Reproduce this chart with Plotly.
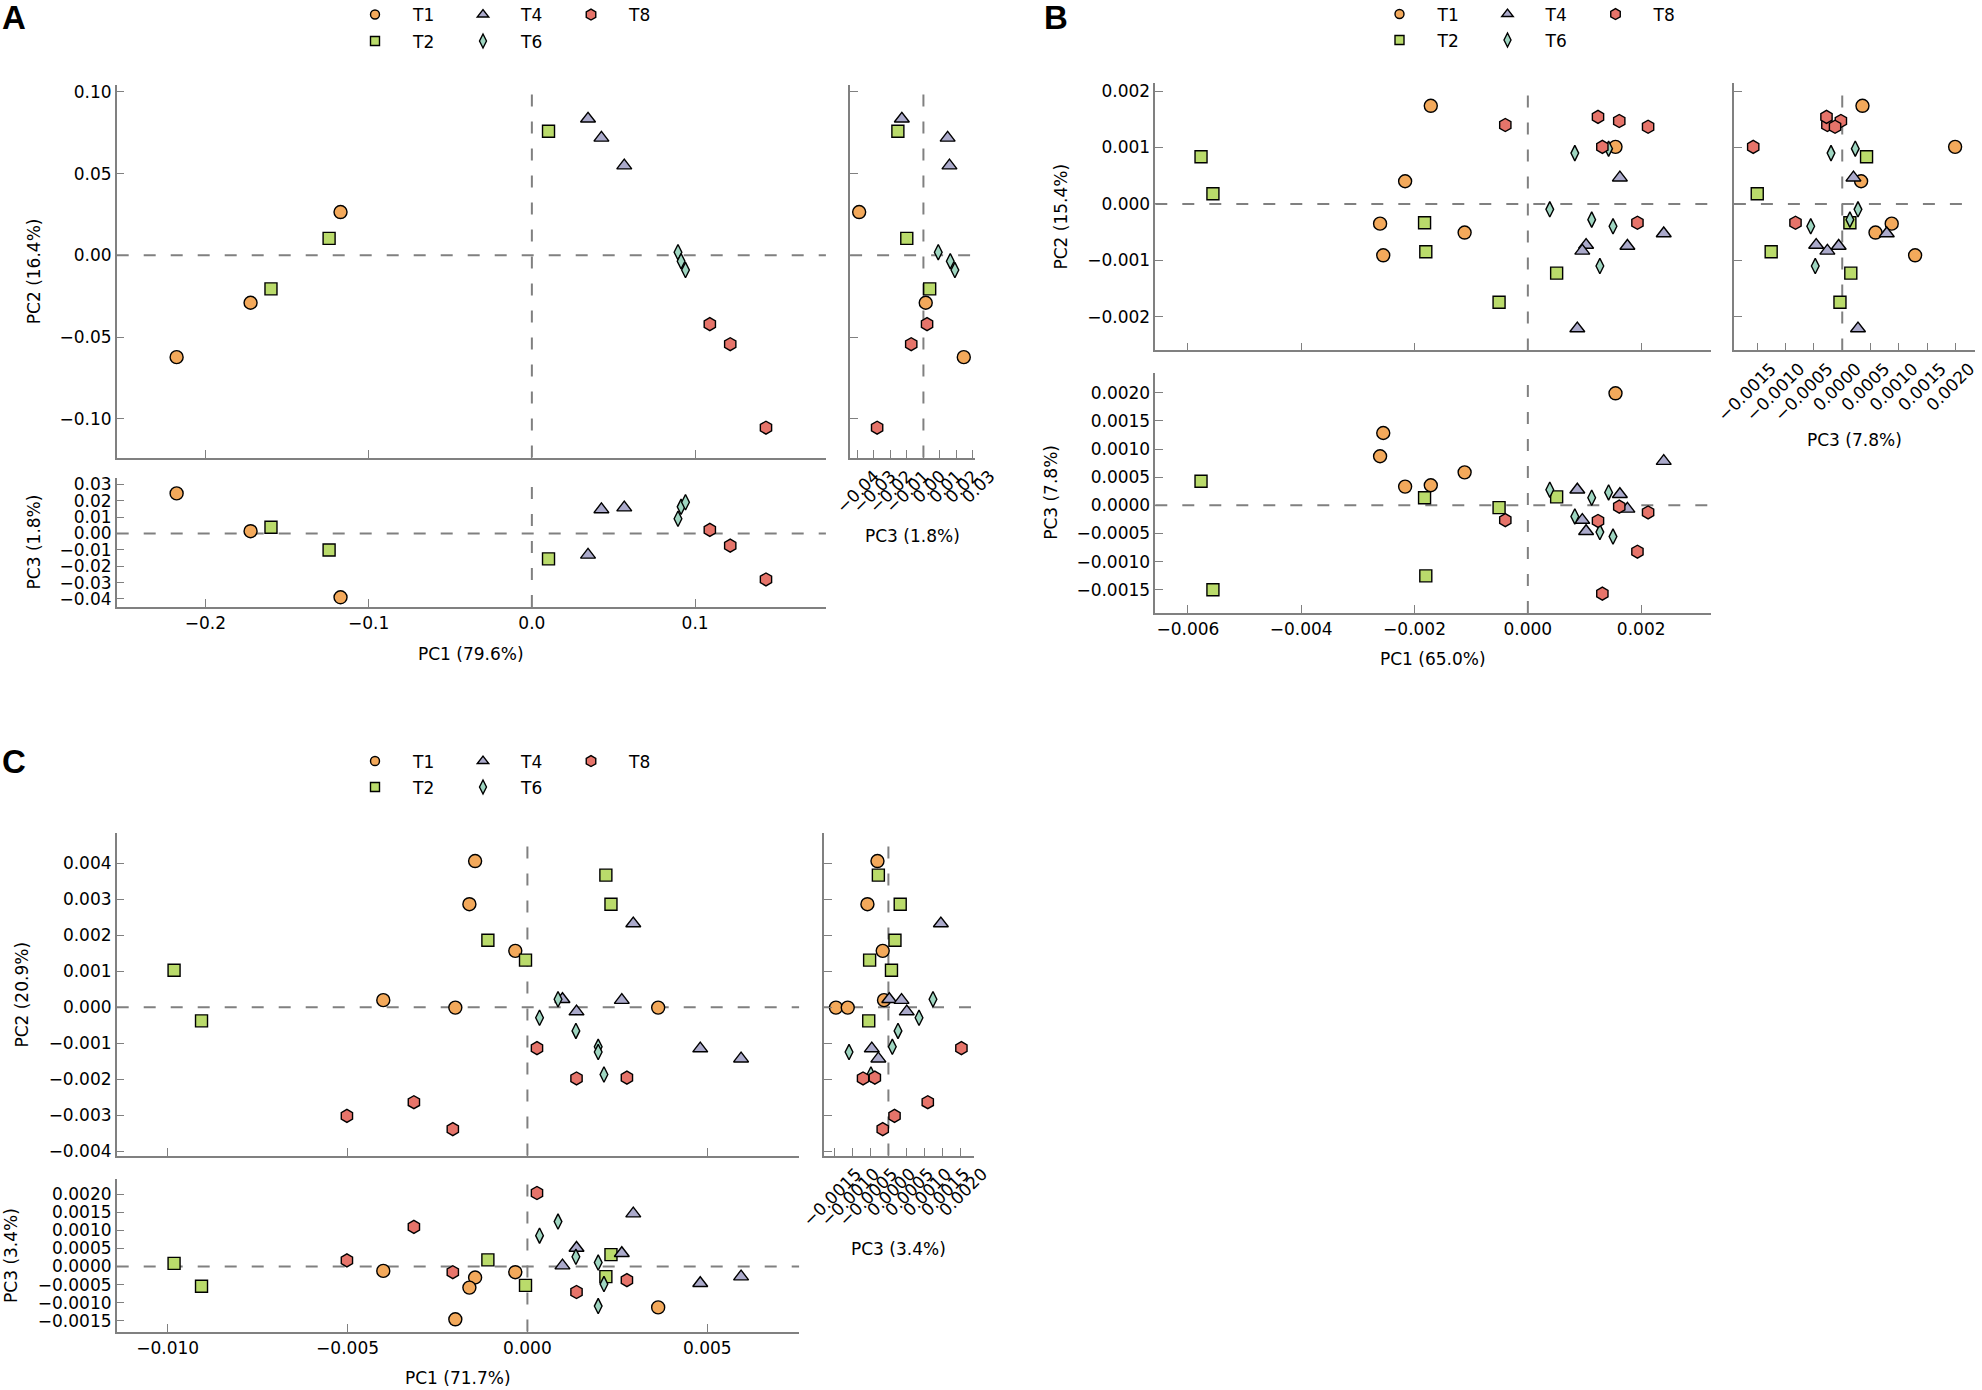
import plotly.graph_objects as go

W, H = 1982, 1390
FONT = "DejaVu Sans"

GROUPS = ["T1", "T2", "T4", "T6", "T8"]
COLORS = ["#F3A95B", "#BADB6B", "#ABAACB", "#9FD6C1", "#E6746A"]
SYMBOLS = ["circle", "square", "triangle-up", "diamond-tall", "hexagon"]

# panel A scores, one list per group (T1, T2, T4, T6, T8)
A_PC1 = [[-0.2176, -0.1723, -0.1172], [-0.1598, -0.1242, 0.0102], [0.0344, 0.0426, 0.0566],
         [0.0895, 0.0914, 0.0941], [0.1090, 0.1215, 0.1434]]
A_PC2 = [[-0.0623, -0.0290, 0.0265], [-0.0205, 0.0104, 0.0760], [0.0836, 0.0719, 0.0549],
         [0.0019, -0.0036, -0.0090], [-0.0421, -0.0544, -0.1055]]
A_PC3 = [[0.0245, 0.0014, -0.0390], [0.0038, -0.0101, -0.0155], [-0.0131, 0.0147, 0.0158],
         [0.0090, 0.0163, 0.0191], [0.0022, -0.0074, -0.0281]]

# panel B
B_PC1 = [[-0.001713, -0.002166, -0.002608, -0.002552, -0.001116, 0.001547],
         [-0.005768, -0.005558, -0.001823, -0.001801, -0.000508, 0.000508],
         [0.001624, 0.002398, 0.001757, 0.001028, 0.000961, 0.000873],
         [0.000829, 0.001425, 0.000387, 0.001127, 0.001503, 0.001271],
         [-0.000398, 0.001238, 0.001613, 0.002122, 0.001315, 0.001934]]
B_PC2 = [[0.001739, 0.000403, -0.000348, -0.000909, -0.000506, 0.001012],
         [0.000838, 0.000182, -0.000332, -0.000846, -0.001739, -0.001225],
         [0.000466, -0.000522, -0.000743, -0.000727, -0.000830, -0.002206],
         [0.000901, 0.000980, -0.000095, -0.000277, -0.000395, -0.001099],
         [0.001399, 0.001542, 0.001470, 0.001368, 0.001012, -0.000332]]
B_PC3 = [[0.000357, 0.000333, 0.000873, 0.001286, 0.000587, 0.001992],
         [0.000429, -0.001500, 0.000135, -0.001254, -0.000040, 0.000151],
         [0.000198, 0.000786, -0.000063, -0.000460, -0.000262, 0.000278],
         [-0.000198, 0.000230, 0.000278, 0.000135, -0.000556, -0.000476],
         [-0.000262, -0.000278, -0.000024, -0.000127, -0.001571, -0.000825]]

# panel C
C_PC1 = [[-0.001454, -0.001613, -0.000337, -0.004007, -0.002004, 0.003635],
         [-0.009823, -0.009060, -0.001099, -0.000053, 0.002181, 0.002323],
         [0.002943, 0.000975, 0.002624, 0.001365, 0.004805, 0.005940],
         [0.000851, 0.000337, 0.001348, 0.001968, 0.001968, 0.002128],
         [0.000266, 0.001365, 0.002766, -0.003156, -0.005018, -0.002074]]
C_PC2 = [[0.004054, 0.002857, 0.001563, 0.000195, -0.000012, -0.000012],
         [0.001026, -0.000379, 0.001856, 0.001306, 0.003663, 0.002857],
         [0.002320, 0.000220, 0.000195, -0.000122, -0.001148, -0.001429],
         [0.000220, -0.000293, -0.000659, -0.001099, -0.001245, -0.001868],
         [-0.001136, -0.001978, -0.001954, -0.002637, -0.003016, -0.003382]]
C_PC3 = [[-0.000304, -0.000583, -0.000158, -0.000122, -0.001458, -0.001130],
         [0.000085, -0.000547, 0.000182, -0.000522, -0.000279, 0.000328],
         [0.001458, 0.000024, 0.000365, 0.000510, -0.000462, -0.000279],
         [0.001239, 0.000851, 0.000267, 0.000109, -0.001094, -0.000486],
         [0.002029, -0.000705, -0.000377, 0.001094, 0.000170, -0.000158]]

A_TICKS = ([-0.2, -0.1, 0.0, 0.1], [-0.10, -0.05, 0.00, 0.05, 0.10],
           [-0.04, -0.03, -0.02, -0.01, 0.00, 0.01, 0.02, 0.03])
B_TICKS = ([-0.006, -0.004, -0.002, 0.000, 0.002], [-0.002, -0.001, 0.000, 0.001, 0.002],
           [-0.0015, -0.0010, -0.0005, 0.0000, 0.0005, 0.0010, 0.0015, 0.0020])
C_TICKS = ([-0.010, -0.005, 0.000, 0.005], [-0.004, -0.003, -0.002, -0.001, 0.000, 0.001, 0.002, 0.003, 0.004],
           [-0.0015, -0.0010, -0.0005, 0.0000, 0.0005, 0.0010, 0.0015, 0.0020])

A_TITLES = ["PC1 (79.6%)", "PC2 (16.4%)", "PC3 (1.8%)"]
B_TITLES = ["PC1 (65.0%)", "PC2 (15.4%)", "PC3 (7.8%)"]
C_TITLES = ["PC1 (71.7%)", "PC2 (20.9%)", "PC3 (3.4%)"]

# layout of each panel in pixels
panels = [
    dict(letter="A", pc=(A_PC1, A_PC2, A_PC3), ticks=A_TICKS, titles=A_TITLES, fmt=(".1f", ".2f", ".2f"),
         rng=([-0.2543, 0.1801], [-0.1238, 0.1044], [-0.0450, 0.0341], [-0.0445, 0.0310]),
         mx=(116.7, 825.9), my=(84.8, 457.6), by=(477.7, 607.1), rx=(850.1, 974.5),
         lab=(0, -3), leg=(337, 15, 41.5), shift=17,
         tpos=(654, 34, 34, 535.7)),
    dict(letter="B", pc=(B_PC1, B_PC2, B_PC3), ticks=B_TICKS, titles=B_TITLES, fmt=(".3f", ".3f", ".4f"),
         rng=([-0.006575, 0.003227], [-0.002593, 0.00215], [-0.001913, 0.002357], [-0.001912, 0.002343]),
         mx=(1155.3, 1710.7), my=(82.6, 350.4), by=(372.8, 612.9), rx=(1733.9, 1975.0),
         lab=(1042, -3), leg=(1361.5, 14.5, 40.5), shift=14,
         tpos=(659, 1061, 1051, 440)),
    dict(letter="C", pc=(C_PC1, C_PC2, C_PC3), ticks=C_TICKS, titles=C_TITLES, fmt=(".3f", ".3f", ".4f"),
         rng=([-0.011418, 0.007553], [-0.004115, 0.004835], [-0.001798, 0.002418], [-0.00179, 0.002376]),
         mx=(116.7, 799.1), my=(832.9, 1155.5), by=(1178.9, 1331.6), rx=(824.0, 973.9),
         lab=(0, 741), leg=(337, 761.5, 787.5), shift=22,
         tpos=(1378, 22.4, 11.7, 1249)),
]

SIZES = [13, 12, 13, 11, 13]
LEG_SIZES = [9, 9, 10, 10, 11]
GRAY = "#808080"


def xd(a, b):
    return [a / W, b / W]


def yd(top, bottom):
    return [1 - bottom / H, 1 - top / H]


def axis(**kw):
    base = dict(showline=True, linecolor=GRAY, linewidth=1.5, ticks="inside", ticklen=8,
                tickwidth=1.3, tickcolor=GRAY, showgrid=False, zeroline=False, mirror=False,
                automargin=False, tickfont=dict(family=FONT, size=17, color="black"),
                tickmode="array", ticklabeloverflow="allow")
    base.update(kw)
    return base


def label(text, x, y, angle=0):
    return dict(text=text, xref="paper", yref="paper", x=x / W, y=1 - y / H,
                xanchor="center", yanchor="middle", showarrow=False, textangle=angle,
                font=dict(family=FONT, size=17, color="black"))


fig = go.Figure()
layout = {}
shapes = []
annotations = []
dash = dict(color=GRAY, width=2, dash="12px,15px")

for p, pan in enumerate(panels):
    n = 3 * p + 1
    pc1, pc2, pc3 = pan["pc"]
    t1, t2, t3 = pan["ticks"]
    f1, f2, f3 = pan["fmt"]
    r1, r2, r3, r3x = pan["rng"]
    names = [str(n) if n > 1 else "", str(n + 1), str(n + 2)]

    # main PC1 vs PC2
    layout["xaxis" + names[0]] = axis(domain=xd(*pan["mx"]), anchor="y" + names[0], range=r1,
                                      tickvals=t1, showticklabels=False)
    layout["yaxis" + names[0]] = axis(domain=yd(*pan["my"]), anchor="x" + names[0], range=r2,
                                      tickvals=t2, tickformat=f2)
    # bottom PC1 vs PC3
    layout["xaxis" + names[1]] = axis(domain=xd(*pan["mx"]), anchor="y" + names[1], range=r1,
                                      tickvals=t1, tickformat=f1)
    layout["yaxis" + names[1]] = axis(domain=yd(*pan["by"]), anchor="x" + names[1], range=r3,
                                      tickvals=t3, tickformat=f3)
    # right PC3 vs PC2
    layout["xaxis" + names[2]] = axis(domain=xd(*pan["rx"]), anchor="y" + names[2], range=r3x,
                                      tickvals=t3, tickformat=f3, tickangle=-45,
                                      ticklabelshift=pan["shift"])
    layout["yaxis" + names[2]] = axis(domain=yd(*pan["my"]), anchor="x" + names[2], range=r2,
                                      tickvals=t2, showticklabels=False)

    # axis titles
    ty_x, tx_y2, tx_y3, ty_r = pan["tpos"]
    mx, my, by, rx = pan["mx"], pan["my"], pan["by"], pan["rx"]
    annotations.append(label(pan["titles"][0], sum(mx) / 2, ty_x))
    annotations.append(label(pan["titles"][1], tx_y2, sum(my) / 2, -90))
    annotations.append(label(pan["titles"][2], tx_y3, sum(by) / 2, -90))
    annotations.append(label(pan["titles"][2], sum(rx) / 2, ty_r))

    pairs = [(pc1, pc2), (pc1, pc3), (pc3, pc2)]
    for k, nm in enumerate(names):
        xr, yr = "x" + nm, "y" + nm
        shapes.append(dict(type="line", xref=xr, yref=yr + " domain", x0=0, x1=0, y0=0, y1=1,
                           line=dash, layer="below"))
        shapes.append(dict(type="line", xref=xr + " domain", yref=yr, x0=0, x1=1, y0=0, y1=0,
                           line=dash, layer="below"))
        xs, ys = pairs[k]
        for g in range(len(GROUPS)):
            fig.add_trace(go.Scatter(
                x=xs[g], y=ys[g], mode="markers", xaxis=xr, yaxis=yr, showlegend=False,
                name=GROUPS[g], cliponaxis=False,
                marker=dict(symbol=SYMBOLS[g], size=SIZES[g], color=COLORS[g],
                            line=dict(color="black", width=1.4)),
            ))

    # legend: two rows, T1 T4 T8 / T2 T6
    lx, ly1, ly2 = pan["leg"]
    rows = [[0, 2, 4], [1, 3]]
    for r, members in enumerate(rows):
        lid = "legend" + (str(2 * p + r + 1) if 2 * p + r > 0 else "")
        layout[lid] = dict(orientation="h", x=lx / W, y=1 - (ly1 if r == 0 else ly2) / H,
                           xref="container", yref="container",
                           xanchor="left", yanchor="middle", itemwidth=66, entrywidth=27,
                           entrywidthmode="pixels", bgcolor="rgba(0,0,0,0)", borderwidth=0,
                           font=dict(family=FONT, size=17, color="black"), itemsizing="trace",
                           traceorder="normal")
        for g in members:
            fig.add_trace(go.Scatter(
                x=[None], y=[None], mode="markers", xaxis="x" + names[0], yaxis="y" + names[0],
                name=GROUPS[g], legend=lid, showlegend=True,
                marker=dict(symbol=SYMBOLS[g], size=LEG_SIZES[g], color=COLORS[g],
                            line=dict(color="black", width=1.4)),
            ))

    lxp, lyp = pan["lab"]
    annotations.append(dict(text="<b>%s</b>" % pan["letter"], xref="paper", yref="paper",
                            x=lxp / W, y=1 - lyp / H, xanchor="left", yanchor="top", showarrow=False,
                            font=dict(family="Liberation Sans", size=33, color="black")))

fig.update_layout(
    width=W, height=H, autosize=False,
    margin=dict(l=0, r=0, t=0, b=0, autoexpand=False),
    paper_bgcolor="white", plot_bgcolor="white",
    font=dict(family=FONT, size=17, color="black"),
    shapes=shapes, annotations=annotations, showlegend=True,
    **layout,
)

# the page body has a default 8px margin; drop it so the figure sits at the window corner
fig.write_html("out.html", config={"displayModeBar": False},
               post_script="document.body.style.margin='0px';")
